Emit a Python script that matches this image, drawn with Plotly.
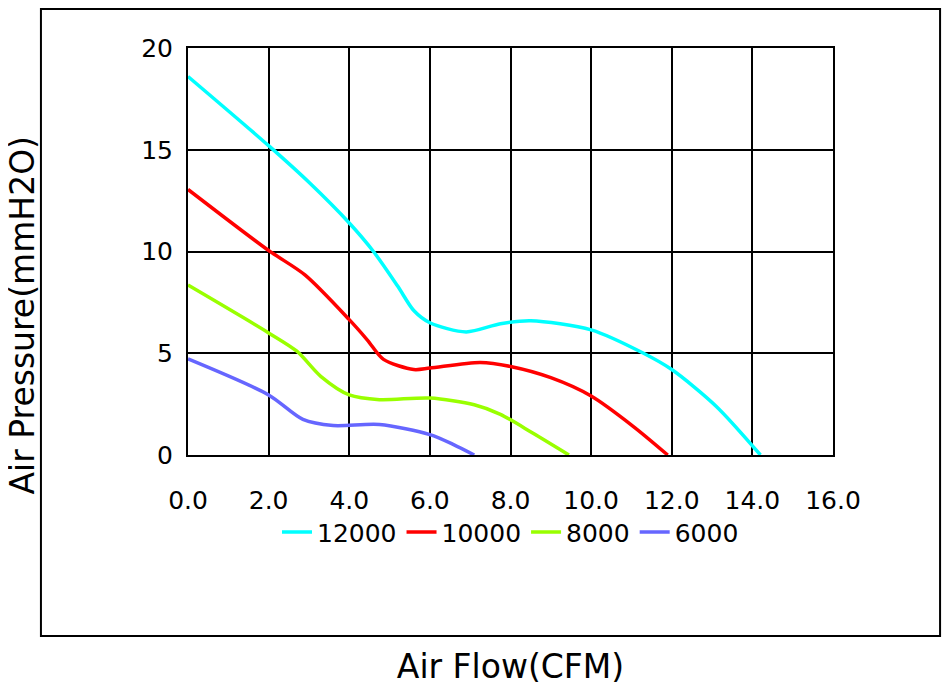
import plotly.graph_objects as go

# fan curves
flow_12000 = [0.0, 2.0, 3.0, 4.0, 4.6, 5.2, 5.6, 6.0, 6.9, 7.75, 8.5, 10.0, 11.3, 12.0, 13.1, 14.2]
pres_12000 = [18.6, 15.2, 13.4, 11.4, 10.0, 8.3, 7.1, 6.5, 6.05, 6.45, 6.6, 6.15, 5.0, 4.2, 2.4, 0.0]

flow_10000 = [0.0, 2.0, 2.9, 4.0, 4.45, 4.85, 5.6, 6.0, 7.25, 8.0, 9.0, 10.0, 11.05, 11.9]
pres_10000 = [13.05, 10.05, 8.85, 6.65, 5.65, 4.7, 4.2, 4.27, 4.55, 4.35, 3.8, 2.9, 1.4, 0.0]

flow_8000 = [0.0, 2.0, 2.7, 3.3, 4.0, 4.75, 6.0, 7.1, 7.75, 8.55, 9.45]
pres_8000 = [8.35, 6.0, 5.1, 3.85, 2.95, 2.72, 2.8, 2.47, 2.0, 1.08, 0.0]

flow_6000 = [0.0, 2.0, 2.85, 3.6, 4.75, 6.0, 6.6, 7.1]
pres_6000 = [4.72, 2.95, 1.75, 1.45, 1.5, 1.0, 0.5, 0.0]

series = [
    ("12000", flow_12000, pres_12000, "#00FFFF"),
    ("10000", flow_10000, pres_10000, "#FF0000"),
    ("8000", flow_8000, pres_8000, "#99FF00"),
    ("6000", flow_6000, pres_6000, "#6666FF"),
]

fig = go.Figure()
for name, xs, ys, col in series:
    fig.add_trace(go.Scatter(
        x=xs, y=ys, name=name, mode="lines",
        line=dict(color=col, width=3.5, shape="spline", smoothing=0.8),
    ))

axis_font = dict(family="DejaVu Sans", size=25, color="black")
title_font = dict(family="DejaVu Sans", size=33, color="black")

# page body has an 8px margin, so keep the figure inside the window (no scrollbars)
fig.update_layout(
    width=934, height=678,
    margin=dict(l=180, r=109, t=40, b=231),
    paper_bgcolor="white", plot_bgcolor="white",
    font=axis_font,
    showlegend=True,
    legend=dict(orientation="h", x=0.5, xanchor="center", y=-0.19, yanchor="middle",
                font=axis_font, itemwidth=30, tracegroupgap=0),
    xaxis=dict(
        range=[0, 16], dtick=2, tickformat=".1f",
        showgrid=True, gridcolor="black", gridwidth=2,
        showline=True, linecolor="black", linewidth=2, mirror=True,
        zeroline=False, ticks="", ticklabelstandoff=22,
        title=dict(text="Air Flow(CFM)", font=title_font, standoff=148),
        automargin=False,
    ),
    yaxis=dict(
        range=[0, 20], dtick=5,
        showgrid=True, gridcolor="black", gridwidth=2,
        showline=True, linecolor="black", linewidth=2, mirror=True,
        zeroline=False, ticks="", ticklabelstandoff=8,
        automargin=False,
    ),
)

# y title sits lower than the plot centre, as in the original
fig.add_annotation(text="Air Pressure(mmH2O)", xref="paper", yref="paper",
                   x=-0.2565, y=0.344, xanchor="center", yanchor="middle",
                   textangle=-90, showarrow=False, font=title_font, borderpad=0)

# outer frame around the chart
fig.add_shape(type="rect", xref="paper", yref="paper",
              x0=-0.228, x1=1.166, y0=-0.445, y1=1.096,
              line=dict(color="black", width=2), layer="below")

fig.write_html("out.html")
